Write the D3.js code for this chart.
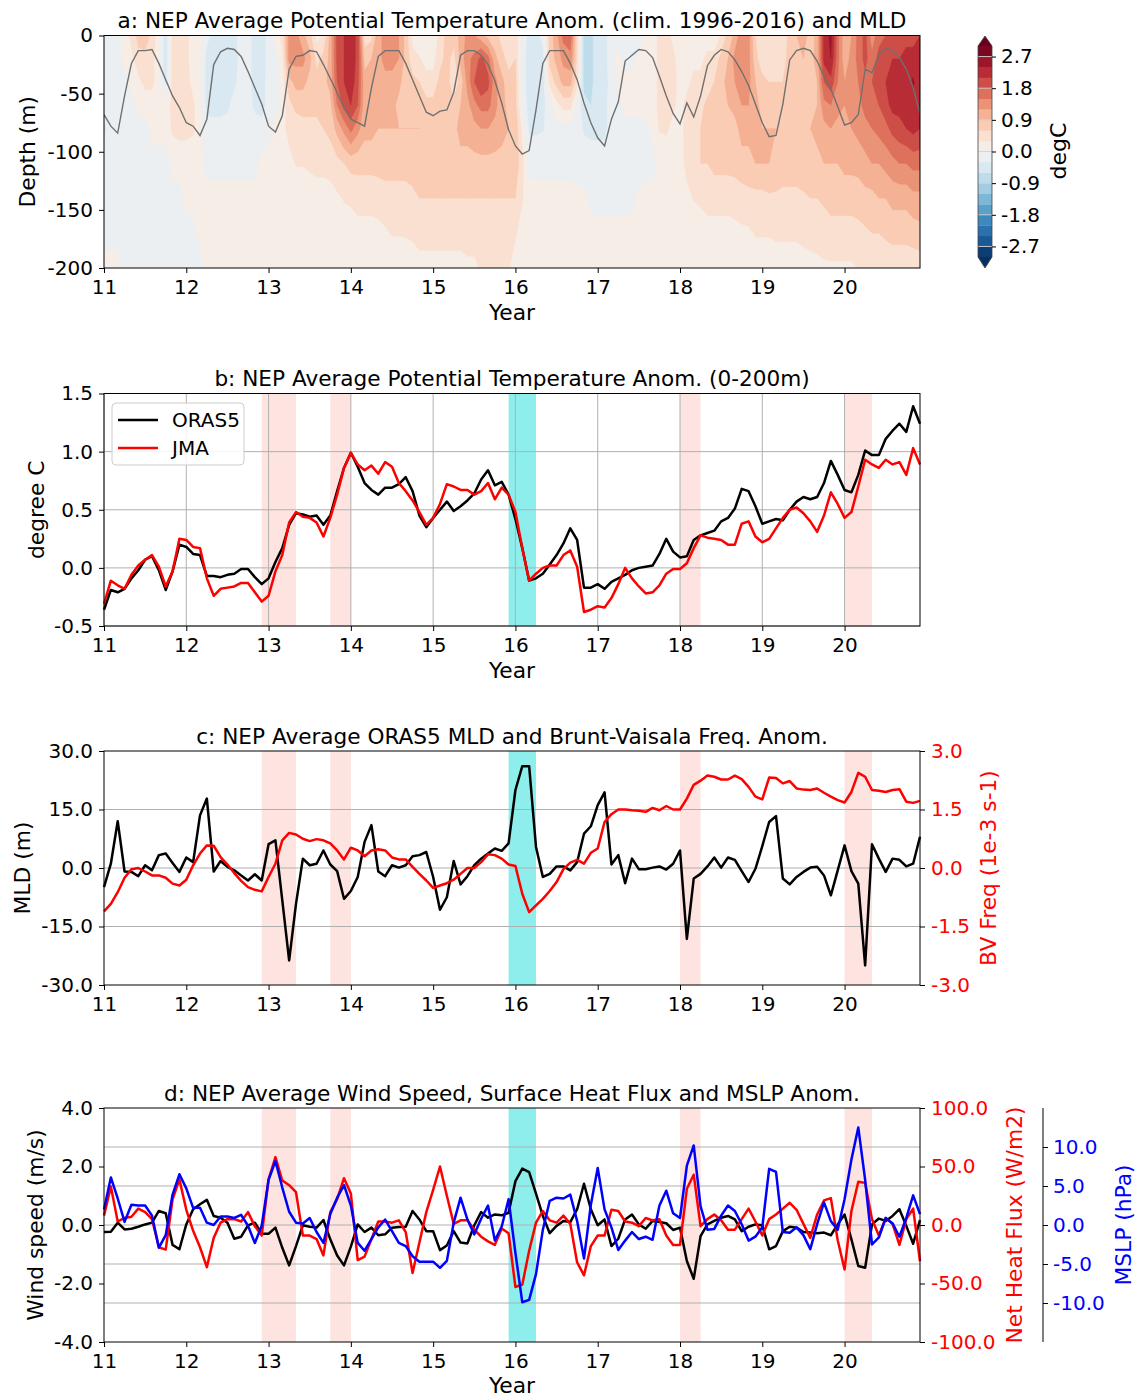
<!DOCTYPE html>
<html><head><meta charset="utf-8">
<script src="https://cdn.jsdelivr.net/npm/d3@7/dist/d3.min.js"></script>
<style>
html,body{margin:0;padding:0;background:#fff;}
svg text{font-family:"DejaVu Sans",sans-serif;}
</style></head>
<body>
<svg id="chart" width="1135" height="1398" xmlns="http://www.w3.org/2000/svg"></svg>
<script>
// ---------------- DATA ----------------
const xTickVals = [11,12,13,14,15,16,17,18,19,20];
const xTickLabels = ["11","12","13","14","15","16","17","18","19","20"];
// monthly time axis: Jan 2011 .. Dec 2020 (year - 2000)
const months = d3.range(120).map(i => 11 + i / 12);

// panel a: depth levels (m) and temperature anomaly profiles per month (degC)
const depthLevels = [0,20,40,60,80,110,140,170,200];
const thetaField = [
[-0.1,-0.1,-0.1,-0.2,-0.35,-0.2,-0.1,-0.1,0.1],[-0.2,-0.2,-0.2,-0.1,-0.2,-0.1,-0.1,-0.1,0.1],[-0.1,-0.1,-0.1,-0.1,-0.1,-0.1,-0.1,-0.1,0.1],
[0.1,0.1,-0.1,-0.1,-0.1,-0.1,-0.1,-0.1,-0.1],[0.4,0.2,0.1,-0.1,-0.1,-0.1,-0.1,-0.1,-0.1],[0.7,0.5,0.2,0.1,-0.1,-0.1,-0.1,-0.1,-0.1],
[0.8,0.5,0.4,0.1,-0.1,-0.1,-0.1,-0.1,-0.1],[0.5,0.4,0.4,0.1,0.1,-0.1,-0.1,-0.1,-0.1],[0.1,0.1,0.1,0.1,0.1,-0.1,-0.1,-0.1,-0.1],
[-0.5,-0.5,-0.4,0.1,0.1,-0.1,-0.1,-0.1,-0.1],[0.4,0.4,0.4,0.4,0.35,0.1,-0.1,-0.1,-0.1],[0.4,0.4,0.4,0.4,0.4,0.1,-0.1,-0.1,-0.1],
[0.4,0.4,0.4,0.4,0.4,0.1,0.1,-0.1,-0.1],[0.1,0.1,0.2,0.35,0.35,0.1,0.1,-0.1,-0.1],[0.1,0.1,0.1,0.1,0.1,0.1,0.1,0.1,-0.1],
[-0.2,-0.4,-0.4,-0.4,-0.2,-0.1,0.1,0.1,0.1],[-0.4,-0.4,-0.4,-0.4,-0.2,-0.1,0.1,0.1,0.1],[-0.4,-0.4,-0.4,-0.4,-0.2,-0.1,0.1,0.1,0.1],
[-0.4,-0.4,-0.4,-0.35,-0.2,-0.1,0.1,0.1,0.1],[-0.4,-0.4,-0.35,-0.2,-0.2,-0.1,0.1,0.1,0.1],[-0.1,-0.2,-0.2,-0.2,-0.2,-0.1,0.1,0.1,0.1],
[-0.2,-0.2,-0.2,-0.2,-0.2,-0.1,0.1,0.1,0.1],[-0.4,-0.4,-0.4,-0.35,-0.2,-0.1,0.1,0.1,0.1],[-0.45,-0.45,-0.4,-0.4,-0.2,0.1,0.1,0.1,0.1],
[-0.2,-0.2,-0.2,-0.2,-0.1,0.1,0.1,0.1,0.1],[0.1,-0.1,-0.1,-0.1,0.1,0.1,0.1,0.1,0.1],[0.4,0.2,0.1,0.1,0.2,0.1,0.1,0.1,0.1],
[1.3,1.3,0.8,0.5,0.4,0.2,0.1,0.1,0.1],[1.3,1.3,1.0,0.7,0.4,0.32,0.1,0.1,0.1],[1.0,1.3,1.0,0.7,0.5,0.32,0.1,0.1,0.1],
[0.7,1.0,0.8,0.7,0.5,0.35,0.15,0.1,0.1],[0.2,0.5,0.7,0.7,0.5,0.4,0.15,0.1,0.1],[0.32,0.7,0.8,0.7,0.6,0.4,0.15,0.1,0.1],
[1.0,1.0,1.0,0.8,0.7,0.4,0.2,0.1,0.1],[1.9,1.9,1.8,1.5,1.0,0.5,0.25,0.1,0.1],[2.1,2.1,2.1,1.9,1.3,0.6,0.32,0.15,0.1],
[2.3,2.3,2.3,2.1,1.6,0.7,0.35,0.15,0.1],[2.0,2.0,1.9,1.8,1.3,0.7,0.4,0.2,0.1],[0.4,0.8,1.0,1.0,1.0,0.7,0.4,0.2,0.1],
[0.5,0.9,1.0,1.0,1.0,0.7,0.4,0.2,0.1],[1.1,1.1,1.0,1.0,0.9,0.7,0.45,0.2,0.1],[1.3,1.3,1.1,1.0,0.9,0.7,0.5,0.25,0.1],
[1.3,1.3,1.1,1.0,0.9,0.7,0.5,0.32,0.1],[1.2,1.2,1.0,0.8,0.9,0.7,0.5,0.32,0.1],[0.8,0.8,0.7,0.8,0.9,0.7,0.5,0.32,0.15],
[0.2,0.4,0.7,0.8,0.9,0.7,0.55,0.35,0.15],[0.1,0.32,0.6,0.8,0.9,0.8,0.6,0.4,0.2],[0.1,0.2,0.4,0.7,0.8,0.8,0.6,0.4,0.2],
[0.1,0.2,0.4,0.7,0.8,0.8,0.6,0.4,0.2],[0.4,0.5,0.7,0.7,0.8,0.8,0.6,0.4,0.2],[0.7,0.7,0.7,0.7,0.8,0.8,0.6,0.4,0.2],
[0.7,0.5,0.4,0.7,0.8,0.8,0.6,0.4,0.2],[1.0,1.0,0.7,0.9,1.0,0.8,0.6,0.4,0.2],[1.3,1.4,1.3,1.1,1.0,0.8,0.6,0.4,0.25],
[1.2,1.6,1.8,1.4,1.1,0.8,0.6,0.4,0.25],[1.0,1.9,2.1,1.6,1.2,0.8,0.6,0.4,0.32],[0.8,1.6,1.9,1.6,1.2,0.8,0.6,0.45,0.35],
[0.7,1.0,1.3,1.3,1.1,0.8,0.6,0.45,0.35],[0.5,0.7,1.0,1.0,1.0,0.8,0.6,0.45,0.35],[0.4,0.5,0.7,0.8,0.9,0.8,0.6,0.4,0.32],
[0.5,0.6,0.7,0.7,0.8,0.8,0.6,0.32,0.2],[-0.1,-0.2,-0.2,-0.1,0.2,0.4,0.32,0.2,0.1],[-0.4,-0.4,-0.4,-0.4,-0.35,-0.1,0.1,0.1,0.1],
[-0.4,-0.4,-0.4,-0.4,-0.35,-0.1,0.1,0.1,0.1],[-0.2,-0.4,-0.4,-0.4,-0.32,-0.1,0.1,0.1,0.1],[0.7,0.7,0.4,-0.1,-0.2,-0.1,0.1,0.1,0.1],
[1.1,1.0,0.7,0.2,-0.1,-0.1,0.1,0.1,0.1],[1.6,1.3,1.0,0.4,-0.1,-0.1,0.1,0.1,0.1],[1.7,1.4,1.0,0.4,-0.1,-0.1,0.1,0.1,0.1],
[0.5,0.5,0.4,-0.1,-0.2,-0.2,0.1,0.1,0.1],[-0.7,-0.7,-0.7,-0.5,-0.32,-0.2,0.1,0.1,0.1],[-0.7,-0.7,-0.7,-0.6,-0.35,-0.2,-0.1,0.1,0.1],
[-0.4,-0.4,-0.4,-0.4,-0.35,-0.2,-0.1,0.1,0.1],[-0.4,-0.4,-0.4,-0.35,-0.35,-0.2,-0.1,0.1,0.1],[-0.1,-0.1,-0.2,-0.2,-0.2,-0.2,-0.1,0.1,0.1],
[-0.1,0.1,0.1,-0.1,-0.2,-0.2,-0.1,0.1,0.1],[-0.1,-0.1,0.1,0.1,-0.1,-0.2,-0.1,0.1,0.1],[-0.32,-0.1,0.1,0.1,-0.1,-0.2,-0.1,0.1,0.1],
[-0.2,0.1,0.1,0.1,-0.1,-0.2,0.1,0.1,0.1],[0.1,0.1,0.1,0.1,-0.1,-0.1,0.1,0.1,0.1],[0.1,0.1,0.1,0.1,0.1,-0.1,0.1,0.1,0.1],
[0.4,0.4,0.4,0.4,0.32,0.1,0.1,0.1,0.1],[0.4,0.4,0.4,0.4,0.35,0.1,0.1,0.1,0.1],[0.2,0.4,0.4,0.35,0.2,0.1,0.1,0.1,0.1],
[0.1,0.1,0.2,0.2,0.2,0.15,0.1,0.1,0.1],[0.1,0.1,0.2,0.4,0.4,0.4,0.2,0.1,0.1],[0.2,0.2,0.4,0.4,0.5,0.5,0.32,0.1,0.1],
[0.2,0.2,0.4,0.5,0.6,0.6,0.35,0.15,0.1],[0.1,0.4,0.4,0.7,0.7,0.6,0.4,0.2,0.1],[0.1,0.4,0.6,0.7,0.7,0.7,0.4,0.2,0.1],
[0.32,0.7,0.8,0.8,0.7,0.7,0.4,0.2,0.1],[0.7,0.9,1.0,0.9,0.8,0.7,0.4,0.2,0.1],[1.0,1.3,1.2,1.0,0.8,0.7,0.45,0.2,0.1],
[1.4,1.5,1.5,1.2,1.0,0.8,0.45,0.25,0.1],[1.3,1.3,1.3,1.2,1.0,0.8,0.5,0.25,0.1],[0.6,0.7,0.9,1.0,1.0,0.9,0.5,0.32,0.15],
[0.32,0.4,0.7,0.8,0.9,0.9,0.5,0.32,0.15],[0.32,0.4,0.6,0.8,0.9,0.9,0.55,0.32,0.15],[0.4,0.5,0.6,0.8,0.9,0.8,0.55,0.35,0.15],
[0.4,0.5,0.6,0.7,0.8,0.7,0.55,0.35,0.15],[0.7,0.7,0.6,0.7,0.8,0.7,0.55,0.35,0.15],[0.9,0.8,0.7,0.7,0.8,0.7,0.55,0.35,0.15],
[1.1,0.9,0.8,0.7,0.8,0.8,0.55,0.4,0.15],[0.7,0.8,0.8,0.8,0.9,0.8,0.6,0.4,0.2],[1.0,1.0,0.9,0.9,1.0,0.8,0.6,0.45,0.2],
[2.2,2.2,1.8,1.4,1.1,0.9,0.65,0.45,0.25],[2.5,2.4,2.0,1.5,1.2,0.9,0.7,0.5,0.25],[1.6,1.6,1.5,1.3,1.1,0.9,0.7,0.5,0.25],
[1.0,1.0,1.2,1.2,1.1,1.0,0.7,0.5,0.25],[1.2,1.3,1.3,1.3,1.2,1.0,0.7,0.5,0.25],[1.6,1.6,1.5,1.4,1.3,1.0,0.75,0.5,0.32],
[1.9,1.9,1.7,1.6,1.4,1.1,0.8,0.55,0.32],[1.3,1.6,1.8,1.7,1.5,1.2,0.8,0.6,0.35],[1.7,1.9,1.9,1.8,1.6,1.2,0.9,0.6,0.35],
[1.8,2.0,2.1,2.0,1.7,1.3,0.9,0.65,0.4],[1.9,2.1,2.2,2.2,1.9,1.4,1.0,0.7,0.4],[1.9,2.1,2.25,2.2,2.0,1.5,1.0,0.7,0.4],
[2.0,2.2,2.3,2.25,2.1,1.5,1.0,0.7,0.4],[2.0,2.2,2.45,2.3,2.2,1.6,1.1,0.75,0.4],[2.1,2.2,2.2,2.2,2.1,1.6,1.1,0.8,0.4]
];
// panel a: mixed layer depth (m)
const mldClim = [-68,-78,-84,-52,-24,-13,-13,-12,-24,-38,-52,-62,
-75,-78,-86,-72,-25,-14,-11,-12,-18,-31,-45,-59,
-78,-83,-69,-29,-18,-17,-13,-14,-25,-37,-49,-62,
-72,-75,-78,-45,-18,-13,-13,-13,-24,-38,-52,-66,
-69,-65,-64,-49,-17,-13,-13,-17,-25,-39,-58,-81,
-95,-102,-99,-64,-24,-13,-13,-13,-24,-38,-58,-75,
-88,-95,-72,-57,-22,-17,-12,-13,-19,-35,-52,-67,
-76,-58,-70,-52,-26,-17,-12,-14,-21,-31,-43,-59,
-75,-87,-86,-59,-21,-13,-11,-13,-22,-35,-46,-61,
-77,-75,-68,-29,-32,-17,-11,-13,-19,-29,-45,-67];

// panel b: 0-200m potential temperature anomaly (degC)
const orasTheta = [-0.36,-0.19,-0.21,-0.18,-0.09,-0.02,0.07,0.10,-0.02,-0.19,-0.03,0.20,
0.18,0.12,0.11,-0.07,-0.07,-0.08,-0.06,-0.05,-0.01,-0.01,-0.08,-0.14,
-0.09,0.05,0.17,0.37,0.47,0.46,0.44,0.45,0.37,0.45,0.66,0.86,
0.99,0.87,0.73,0.67,0.63,0.69,0.69,0.72,0.78,0.66,0.45,0.35,
0.43,0.50,0.57,0.49,0.53,0.58,0.64,0.76,0.84,0.71,0.74,0.63,
0.42,0.17,-0.11,-0.09,-0.05,0.03,0.11,0.21,0.34,0.24,-0.17,-0.17,
-0.14,-0.18,-0.12,-0.09,-0.06,-0.02,0.00,0.01,0.02,0.12,0.25,0.14,
0.09,0.10,0.24,0.28,0.30,0.32,0.40,0.43,0.51,0.68,0.66,0.53,
0.38,0.40,0.42,0.41,0.50,0.57,0.61,0.59,0.61,0.73,0.92,0.80,
0.67,0.65,0.80,1.01,0.97,0.97,1.11,1.18,1.24,1.17,1.39,1.24];
const jmaTheta = [-0.31,-0.11,-0.15,-0.18,-0.06,0.02,0.07,0.11,0.01,-0.16,-0.03,0.25,
0.24,0.18,0.17,-0.09,-0.24,-0.18,-0.17,-0.16,-0.13,-0.13,-0.21,-0.29,
-0.24,-0.03,0.11,0.39,0.48,0.44,0.43,0.39,0.27,0.43,0.63,0.86,
0.99,0.89,0.84,0.88,0.81,0.91,0.87,0.73,0.66,0.58,0.48,0.37,
0.43,0.55,0.72,0.70,0.67,0.67,0.63,0.66,0.73,0.59,0.69,0.63,
0.48,0.17,-0.11,-0.05,0.00,0.02,0.02,0.11,0.15,0.01,-0.38,-0.36,
-0.33,-0.34,-0.26,-0.14,0.00,-0.09,-0.16,-0.22,-0.21,-0.15,-0.05,-0.01,
-0.01,0.04,0.17,0.28,0.26,0.25,0.24,0.20,0.20,0.38,0.40,0.27,
0.22,0.25,0.34,0.43,0.50,0.52,0.47,0.40,0.31,0.45,0.65,0.55,
0.43,0.48,0.70,0.93,0.89,0.86,0.93,0.89,0.91,0.80,1.03,0.89];

// panel c: MLD anomaly (m) and Brunt-Vaisala frequency anomaly (1e-3 s-1)
const mldAnom = [-4.9,1.1,12.0,-0.9,-1.0,-2.1,0.7,-0.6,3.3,3.7,1.3,-1.0,
2.7,1.5,13.5,17.8,-0.9,1.8,0.3,-0.6,-1.9,-3.2,-1.6,-3.2,
6.1,7.1,-8.3,-23.7,-9.2,2.4,0.7,1.1,4.5,0.9,-0.8,-7.9,
-5.9,-2.3,6.7,11.0,-0.9,-2.1,0.7,0.1,0.7,3.0,3.3,4.1,
-2.3,-10.7,-7.5,1.8,-4.2,-2.1,0.7,2.4,3.7,5.0,4.4,6.3,
20.0,26.1,26.1,5.4,-2.3,-1.5,0.4,0.4,-0.6,1.5,8.8,10.7,
16.1,19.4,0.9,3.3,-3.9,2.4,-0.3,-0.3,0.1,0.4,-0.4,1.1,
4.5,-18.2,-2.7,-1.5,0.4,2.7,0.1,2.7,2.1,-0.8,-3.6,-0.2,
5.6,11.8,13.3,-2.7,-4.2,-2.3,-1.0,0.1,0.3,-1.9,-7.0,-0.6,
5.8,-0.8,-4.0,-25.0,6.1,2.4,-1.0,2.4,2.1,0.4,1.1,8.0];
const bvAnom = [-1.11,-0.92,-0.62,-0.25,-0.03,0.00,-0.09,-0.19,-0.19,-0.25,-0.40,-0.45,
-0.30,0.07,0.37,0.58,0.57,0.28,0.09,-0.13,-0.33,-0.49,-0.56,-0.60,
-0.23,0.11,0.71,0.90,0.86,0.75,0.69,0.74,0.71,0.63,0.45,0.22,
0.52,0.45,0.30,0.45,0.48,0.45,0.27,0.22,0.22,0.03,-0.15,-0.32,
-0.51,-0.45,-0.39,-0.30,-0.15,0.00,0.00,0.15,0.35,0.33,0.24,0.09,
0.05,-0.66,-1.13,-0.96,-0.79,-0.59,-0.36,-0.03,0.14,0.21,0.11,0.39,
0.50,1.18,1.38,1.50,1.50,1.48,1.47,1.44,1.54,1.48,1.59,1.50,
1.50,1.78,2.13,2.24,2.37,2.34,2.27,2.27,2.37,2.28,2.08,1.83,
1.76,2.32,2.31,2.17,2.23,2.04,2.01,2.00,2.04,1.93,1.83,1.74,
1.68,1.95,2.44,2.34,2.00,1.98,1.95,2.00,2.02,1.70,1.67,1.72];

// panel d: wind speed (m/s), net heat flux (W/m2), MSLP (hPa) anomalies
const windAnom = [-0.24,-0.23,0.08,-0.15,-0.13,-0.06,0.02,0.08,0.48,0.40,-0.68,-0.83,
0.02,0.54,0.71,0.86,0.31,0.25,0.08,-0.47,-0.40,-0.01,0.08,-0.30,
-0.30,-0.09,-0.78,-1.38,-0.72,-0.01,-0.06,-0.09,0.17,-0.49,-1.04,-1.38,
-0.74,0.02,-0.24,-0.09,-0.35,-0.32,-0.09,-0.07,-0.06,0.48,0.19,-0.21,
-0.21,-0.86,-0.70,-0.21,-0.60,-0.63,-0.01,0.44,0.25,0.36,0.33,0.42,
1.50,1.93,1.81,1.07,0.31,-0.28,-0.03,0.14,0.10,0.54,1.41,0.54,
-0.01,0.19,-0.72,-0.47,0.19,0.36,0.02,-0.13,0.14,0.10,0.06,-0.17,
-0.09,-1.23,-1.84,-0.38,0.02,0.14,0.25,0.31,0.19,-0.21,-0.06,0.02,
-0.01,-0.83,-0.72,-0.21,-0.06,-0.09,-0.24,-0.26,-0.28,-0.26,-0.35,0.02,
0.36,-0.49,-1.40,-1.46,0.02,0.22,0.14,0.31,0.54,-0.03,-0.64,0.17];
const heatFluxAnom = [8,33,3,6,7,14,11,5,-19,-21,22,39,
13,-5,-19,-36,-11,2,5,5,3,11,-1,-9,
39,58,38,34,28,-9,-9,-12,-26,11,22,40,
27,-30,-27,-12,3,3,2,4,-6,-41,-15,11,
30,50,25,1,4,4,-4,-10,-14,-17,-3,-7,
-53,-51,-22,2,12,4,2,8,1,-32,-43,-18,
-9,-9,13,12,3,2,-1,6,4,5,-9,-17,
-17,31,43,-1,5,9,4,-4,-4,5,14,3,
-9,5,9,14,19,13,1,-11,9,21,23,-13,
-38,12,37,36,5,-9,6,1,-17,5,14,-31];
const mslpAnom = [2.0,6.1,3.4,0.4,2.6,2.5,2.5,1.2,-2.9,-1.3,3.9,6.5,
4.7,2.2,2.2,0.3,0.0,1.1,1.1,0.9,1.3,-0.1,-2.3,-0.1,
5.8,8.2,4.8,1.7,0.3,0.2,0.9,-0.9,-2.3,1.4,3.5,5.1,
2.5,-2.3,-3.3,-1.8,-0.3,0.7,-0.8,-2.3,-2.7,-4.0,-4.7,-4.7,
-4.7,-5.5,-4.6,0.3,3.5,0.7,-1.2,0.8,2.5,-2.0,-0.2,3.3,
-3.6,-9.9,-9.6,-6.3,-0.6,3.1,3.5,3.4,3.9,0.5,-4.3,2.6,
7.3,2.0,-0.3,-3.2,-2.0,-0.9,-1.8,-1.5,-1.9,2.5,4.4,1.5,
0.9,7.6,10.2,2.4,-0.6,-0.5,1.2,2.5,1.8,0.1,-2.0,-1.5,
-0.3,7.2,6.8,-0.9,-1.0,-0.3,-1.3,-3.1,0.1,2.9,0.5,-0.6,
3.3,8.4,12.5,5.8,-2.5,-1.6,0.9,0.2,-1.5,0.9,3.8,1.4];

// highlighted periods (year - 2000)
const pinkSpans = [[12.917,13.333],[13.75,14.0],[18.0,18.25],[20.0,20.333]];
const cyanSpans = [[15.917,16.25]];

const yTicksA = [0,-50,-100,-150,-200];
const yTicksB = [-0.5,0.0,0.5,1.0,1.5];
const yTicksC = [-30,-15,0,15,30];
const yTicksC2 = [-3,-1.5,0,1.5,3];
const yTicksD = [-4,-2,0,2,4];
const yTicksD2 = [-100,-50,0,50,100];
const yTicksD3 = [-10,-5,0,5,10];
const cbTicks = [-2.7,-1.8,-0.9,0.0,0.9,1.8,2.7];

// ---------------- DRAWING ----------------
const FS = 20, FT = 21.6, FL = 21.8;
const svg = d3.select("#chart");
const PL = 104, PR = 920;
const x = d3.scaleLinear().domain([months[0], months[months.length - 1]]).range([PL, PR]);
const P = {a:[35.5,268], b:[393.5,626], c:[751,985], d:[1108,1342]};
const GRID = "#b0b0b0", PINK = "#fde4e0", CYAN = "#8eeeec";
const fmt1 = d => d3.format(".1f")(d).replace("\u2212", "-");

function styleAxis(g, color) {
  g.attr("font-size", FS).attr("font-family", "DejaVu Sans");
  g.select(".domain").remove();
  g.selectAll(".tick line").attr("stroke", "#000");
  g.selectAll(".tick text").attr("fill", color || "#000");
}
function xAxis(bottom) {
  const g = svg.append("g").attr("transform", `translate(0,${bottom})`)
    .call(d3.axisBottom(x).tickValues(xTickVals).tickFormat((d, i) => xTickLabels[i]).tickSize(5).tickPadding(7));
  styleAxis(g);
}
function frame(top, bottom) {
  svg.append("rect").attr("x", PL).attr("y", top).attr("width", PR - PL).attr("height", bottom - top)
    .attr("fill", "none").attr("stroke", "#000").attr("stroke-width", 1);
}
function text(tx, ty, str, opt = {}) {
  const t = svg.append("text").attr("x", tx).attr("y", ty).text(str)
    .attr("font-size", opt.fs || FL).attr("fill", opt.fill || "#000")
    .attr("text-anchor", opt.anchor || "middle");
  if (opt.rot) t.attr("transform", `rotate(${opt.rot},${tx},${ty})`).attr("dominant-baseline", "central");
  return t;
}
function spans(top, bottom) {
  pinkSpans.forEach(s => svg.append("rect").attr("x", x(s[0])).attr("width", x(s[1]) - x(s[0]))
    .attr("y", top).attr("height", bottom - top).attr("fill", PINK));
  cyanSpans.forEach(s => svg.append("rect").attr("x", x(s[0])).attr("width", x(s[1]) - x(s[0]))
    .attr("y", top).attr("height", bottom - top).attr("fill", CYAN));
}
function hgrid(scale, vals) {
  vals.forEach(v => svg.append("line").attr("x1", PL).attr("x2", PR).attr("y1", scale(v)).attr("y2", scale(v))
    .attr("stroke", GRID).attr("stroke-width", 1));
}
function series(vals, scale, color, w) {
  svg.append("path").datum(vals)
    .attr("d", d3.line().x((d, i) => x(months[i])).y(d => scale(d)))
    .attr("fill", "none").attr("stroke", color).attr("stroke-width", w || 2.5).attr("stroke-linejoin", "round");
}

// ===== Panel a =====
{
  const [top, bot] = P.a;
  const yA = d3.scaleLinear().domain([0, -200]).range([top, bot]);
  const nx = thetaField.length, ny = depthLevels.length;
  const flat = [];
  for (let j = 0; j < ny; j++) for (let i = 0; i < nx; i++) flat.push(thetaField[i][j]);
  const levels = d3.range(21).map(k => Math.round((-3 + 0.3 * k) * 10) / 10);
  const binColor = v => d3.interpolateRdBu(Math.max(0, Math.min(1, 1 - (v + 0.15 + 3) / 6)));
  const contours = d3.contours().size([nx, ny]).thresholds(levels)(flat);
  const tr = d3.geoTransform({ point: function (px, py) {
    const m = Math.max(0, Math.min(nx - 1, px - 0.5));
    const r = Math.max(0, Math.min(ny - 1, py - 0.5));
    const r0 = Math.min(ny - 2, Math.floor(r)), f = r - r0;
    const dep = depthLevels[r0] + f * (depthLevels[r0 + 1] - depthLevels[r0]);
    this.stream.point(x(months[0] + m / 12), yA(-dep));
  }});
  const path = d3.geoPath(tr);
  svg.append("clipPath").attr("id", "clipA").append("rect")
    .attr("x", PL).attr("y", top).attr("width", PR - PL).attr("height", bot - top);
  const g = svg.append("g").attr("clip-path", "url(#clipA)");
  contours.forEach(c => {
    if (!c.coordinates.length) return;
    g.append("path").attr("d", path(c)).attr("fill", binColor(c.value)).attr("stroke", binColor(c.value)).attr("stroke-width", 0.3);
  });
  g.append("path").datum(mldClim)
    .attr("d", d3.line().x((d, i) => x(months[i])).y(d => yA(d)))
    .attr("fill", "none").attr("stroke", "#707070").attr("stroke-width", 1.4);
  frame(top, bot);
  xAxis(bot);
  const ga = svg.append("g").attr("transform", `translate(${PL},0)`)
    .call(d3.axisLeft(yA).tickValues(yTicksA).tickFormat(d => String(d)).tickSize(5).tickPadding(6));
  styleAxis(ga);
  text(512, 28, "a: NEP Average Potential Temperature Anom. (clim. 1996-2016) and MLD", { fs: FT });
  text(512, 320, "Year");
  text(27, (top + bot) / 2, "Depth (m)", { rot: -90 });

  // colorbar
  const cb = d3.scaleLinear().domain([-3, 3]).range([257, 46]);
  const cx0 = 978, cx1 = 992;
  for (let k = 0; k < 20; k++) {
    svg.append("rect").attr("x", cx0).attr("width", cx1 - cx0)
      .attr("y", cb(levels[k + 1])).attr("height", cb(levels[k]) - cb(levels[k + 1]) + 0.3)
      .attr("fill", binColor(levels[k]));
  }
  svg.append("path").attr("d", `M${cx0},46 L${(cx0 + cx1) / 2},36 L${cx1},46 Z`).attr("fill", d3.interpolateRdBu(0));
  svg.append("path").attr("d", `M${cx0},257 L${(cx0 + cx1) / 2},268 L${cx1},257 Z`).attr("fill", d3.interpolateRdBu(1));
  cbTicks.forEach(v => svg.append("line").attr("x1", cx0).attr("x2", cx1).attr("y1", cb(v)).attr("y2", cb(v))
    .attr("stroke", "rgba(210,210,210,0.9)").attr("stroke-width", 1));
  svg.append("path").attr("d", `M${cx0},46 L${(cx0 + cx1) / 2},36 L${cx1},46 L${cx1},257 L${(cx0 + cx1) / 2},268 L${cx0},257 Z`)
    .attr("fill", "none").attr("stroke", "#444").attr("stroke-width", 0.8);
  const gcb = svg.append("g").attr("transform", `translate(${cx1},0)`)
    .call(d3.axisRight(cb).tickValues(cbTicks).tickFormat(fmt1).tickSize(4).tickPadding(5));
  styleAxis(gcb);
  text(1058, 151, "degC", { rot: -90, fs: 22 });
}

// ===== Panel b =====
{
  const [top, bot] = P.b;
  const yB = d3.scaleLinear().domain([-0.5, 1.5]).range([bot, top]);
  spans(top, bot);
  xTickVals.forEach(v => svg.append("line").attr("x1", x(v)).attr("x2", x(v)).attr("y1", top).attr("y2", bot)
    .attr("stroke", GRID).attr("stroke-width", 1));
  hgrid(yB, yTicksB);
  series(orasTheta, yB, "#000");
  series(jmaTheta, yB, "#ff0000");
  frame(top, bot);
  xAxis(bot);
  const gb = svg.append("g").attr("transform", `translate(${PL},0)`)
    .call(d3.axisLeft(yB).tickValues(yTicksB).tickFormat(fmt1).tickSize(5).tickPadding(6));
  styleAxis(gb);
  // legend
  svg.append("rect").attr("x", 112).attr("y", 403).attr("width", 132).attr("height", 62).attr("rx", 4)
    .attr("fill", "#fff").attr("fill-opacity", 0.85).attr("stroke", "#cccccc");
  [["ORAS5", "#000", 420], ["JMA", "#ff0000", 448]].forEach(([lab, col, ly]) => {
    svg.append("line").attr("x1", 118).attr("x2", 158).attr("y1", ly).attr("y2", ly).attr("stroke", col).attr("stroke-width", 2.5);
    text(172, ly + 7, lab, { anchor: "start", fs: FS });
  });
  text(512, 386, "b: NEP Average Potential Temperature Anom. (0-200m)", { fs: FT });
  text(512, 678, "Year");
  text(36, (top + bot) / 2, "degree C", { rot: -90 });
}

// ===== Panel c =====
{
  const [top, bot] = P.c;
  const yC = d3.scaleLinear().domain([-30, 30]).range([bot, top]);
  const yC2 = d3.scaleLinear().domain([-3, 3]).range([bot, top]);
  spans(top, bot);
  hgrid(yC, [-15, 0, 15]);
  series(mldAnom, yC, "#000");
  series(bvAnom, yC2, "#ff0000");
  frame(top, bot);
  xAxis(bot);
  const gl = svg.append("g").attr("transform", `translate(${PL},0)`)
    .call(d3.axisLeft(yC).tickValues(yTicksC).tickFormat(fmt1).tickSize(5).tickPadding(6));
  styleAxis(gl);
  const gr = svg.append("g").attr("transform", `translate(${PR},0)`)
    .call(d3.axisRight(yC2).tickValues(yTicksC2).tickFormat(fmt1).tickSize(5).tickPadding(6));
  styleAxis(gr, "#ff0000");
  text(512, 744, "c: NEP Average ORAS5 MLD and Brunt-Vaisala Freq. Anom.", { fs: FT });
  text(22, (top + bot) / 2, "MLD (m)", { rot: -90 });
  text(988, (top + bot) / 2, "BV Freq (1e-3 s-1)", { rot: -90, fill: "#ff0000" });
}

// ===== Panel d =====
{
  const [top, bot] = P.d;
  const yD = d3.scaleLinear().domain([-4, 4]).range([bot, top]);
  const yD2 = d3.scaleLinear().domain([-100, 100]).range([bot, top]);
  const yD3 = d3.scaleLinear().domain([-15, 15]).range([bot, top]);
  spans(top, bot);
  hgrid(yD3, yTicksD3);
  series(windAnom, yD, "#000");
  series(heatFluxAnom, yD2, "#ff0000");
  series(mslpAnom, yD3, "#0000ff");
  frame(top, bot);
  xAxis(bot);
  const gl = svg.append("g").attr("transform", `translate(${PL},0)`)
    .call(d3.axisLeft(yD).tickValues(yTicksD).tickFormat(fmt1).tickSize(5).tickPadding(6));
  styleAxis(gl);
  const gr = svg.append("g").attr("transform", `translate(${PR},0)`)
    .call(d3.axisRight(yD2).tickValues(yTicksD2).tickFormat(fmt1).tickSize(5).tickPadding(6));
  styleAxis(gr, "#ff0000");
  const S3 = 1043;
  svg.append("line").attr("x1", S3).attr("x2", S3).attr("y1", top).attr("y2", bot).attr("stroke", "#000").attr("stroke-width", 1);
  const g3 = svg.append("g").attr("transform", `translate(${S3},0)`)
    .call(d3.axisRight(yD3).tickValues(yTicksD3).tickFormat(fmt1).tickSize(5).tickPadding(5));
  styleAxis(g3, "#0000ff");
  text(512, 1101, "d: NEP Average Wind Speed, Surface Heat Flux and MSLP Anom.", { fs: FT });
  text(512, 1393, "Year");
  text(35, (top + bot) / 2, "Wind speed (m/s)", { rot: -90 });
  text(1014, (top + bot) / 2, "Net Heat Flux (W/m2)", { rot: -90, fill: "#ff0000" });
  text(1123, (top + bot) / 2, "MSLP (hPa)", { rot: -90, fill: "#0000ff" });
}
</script>
</body></html>
